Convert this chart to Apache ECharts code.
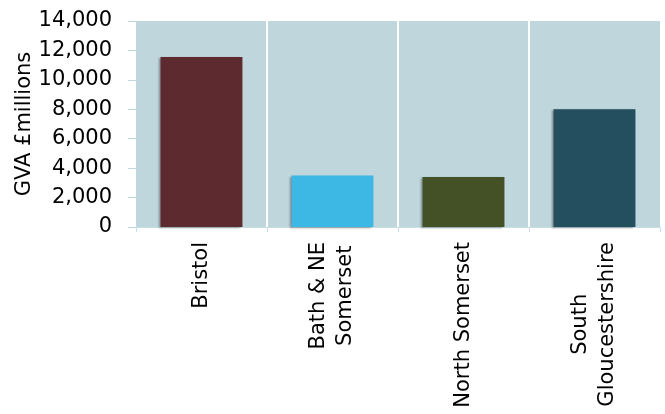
<!DOCTYPE html>
<html>
<head>
<meta charset="utf-8">
<script src="https://cdn.jsdelivr.net/npm/echarts@6/dist/echarts.min.js"></script>
<style>
  html, body { margin: 0; padding: 0; background: #ffffff; }
  #chart { width: 665px; height: 414px; }
</style>
</head>
<body>
<div id="chart"></div>
<script>
// Gross value added by area (£ millions)
const areas = ['Bristol', 'Bath & NE\nSomerset', 'North Somerset', 'South\nGloucestershire'];
const gva = [11550, 3500, 3400, 8000];
const barColors = ['#5c2a2f', '#3db7e4', '#445026', '#234f5e'];
const yTicks = [0, 2000, 4000, 6000, 8000, 10000, 12000, 14000];
const yName = 'GVA £millions';

const font = 'DejaVu Sans, Verdana, sans-serif';
const chart = echarts.init(document.getElementById('chart'), null, { renderer: 'canvas' });

chart.setOption({
  animation: false,
  grid: {
    left: 136, right: 5, top: 21, bottom: 187,
    outerBoundsMode: 'none',
    show: true, backgroundColor: '#bed6dc', borderWidth: 0
  },
  xAxis: {
    type: 'category',
    data: areas,
    axisLine: { show: true, lineStyle: { color: '#c8dfe5', width: 1 } },
    axisTick: { show: true, length: 5, lineStyle: { color: '#c8dfe5' } },
    splitLine: { show: true, showMinLine: false, showMaxLine: false, lineStyle: { color: '#ffffff', width: 2 } },
    axisLabel: {
      rotate: 90,
      margin: 15,
      interval: 0,
      color: '#000000',
      fontFamily: font,
      fontSize: 21,
      lineHeight: 27,
      formatter: function (v) {
        return v.split('\n').map(function (s) { return '{c|' + s + '}'; }).join('\n');
      },
      rich: {
        c: { align: 'center', fontFamily: font, fontSize: 21, lineHeight: 27, color: '#000000' }
      }
    }
  },
  yAxis: {
    type: 'value',
    min: yTicks[0],
    max: yTicks[yTicks.length - 1],
    interval: yTicks[1] - yTicks[0],
    name: yName,
    nameLocation: 'middle',
    nameGap: 101,
    nameMoveOverlap: false,
    nameTextStyle: { color: '#000000', fontFamily: font, fontSize: 21 },
    axisLine: { show: false },
    axisTick: { show: true, length: 8, lineStyle: { color: '#bed6dc', width: 1 } },
    splitLine: { show: false },
    axisLabel: {
      margin: 24,
      color: '#000000',
      fontFamily: font,
      fontSize: 21,
      formatter: function (v) { return v.toLocaleString('en-US'); }
    }
  },
  series: [{
    type: 'bar',
    data: gva.map(function (v, i) {
      return { value: v, itemStyle: { color: barColors[i] } };
    }),
    barWidth: '62.5%',
    itemStyle: {
      shadowColor: 'rgba(0,0,0,0.35)',
      shadowBlur: 2,
      shadowOffsetX: -2,
      shadowOffsetY: 1
    }
  }]
});
</script>
</body>
</html>
